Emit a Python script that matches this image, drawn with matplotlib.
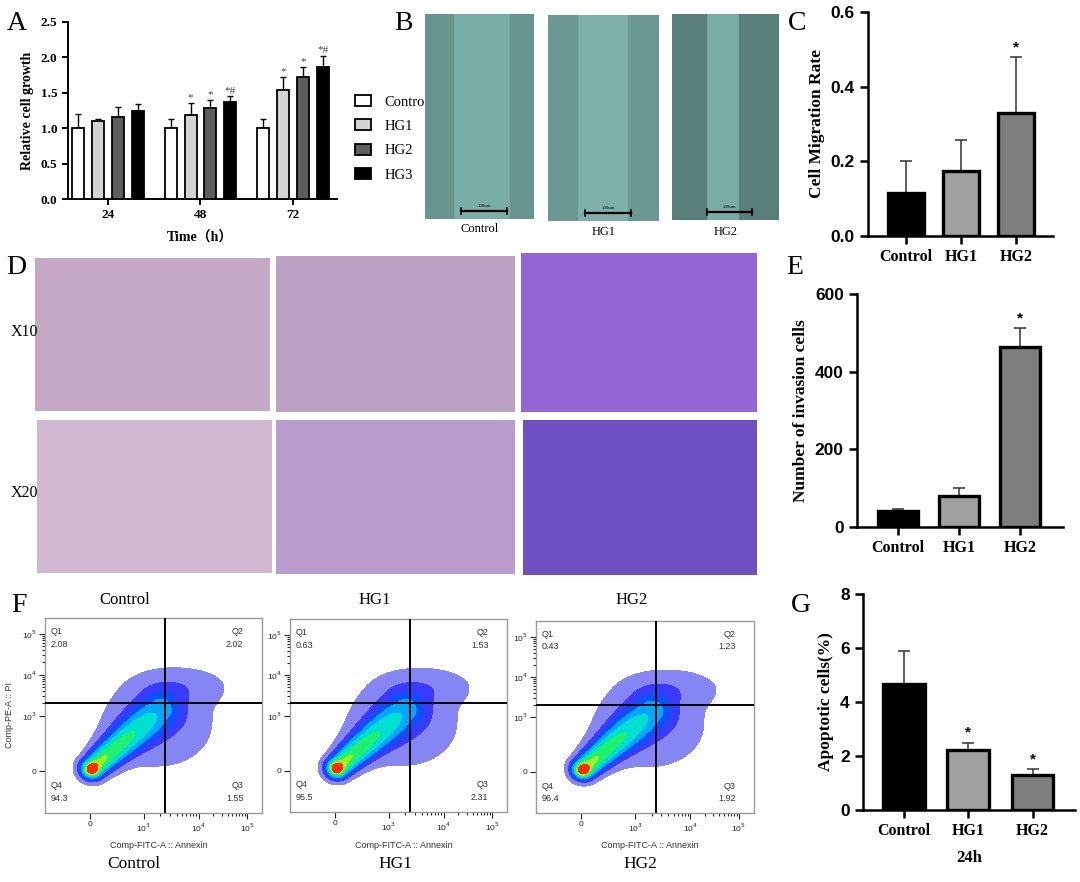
import numpy as np
import matplotlib
matplotlib.use('Agg')
import matplotlib.pyplot as plt
from matplotlib.patches import Rectangle

# ---------------- data ----------------
growth_times = ['24', '48', '72']
growth_groups = ['Contro', 'HG1', 'HG2', 'HG3']
growth_control = [1.00, 1.00, 1.00]
growth_hg1 = [1.10, 1.19, 1.54]
growth_hg2 = [1.16, 1.28, 1.72]
growth_hg3 = [1.25, 1.37, 1.86]
growth_control_err = [0.20, 0.13, 0.13]
growth_hg1_err = [0.03, 0.17, 0.18]
growth_hg2_err = [0.14, 0.12, 0.15]
growth_hg3_err = [0.09, 0.08, 0.16]
growth_sig = [['', '', ''], ['', '*', '*'], ['', '*', '*'], ['', '*#', '*#']]

groups3 = ['Control', 'HG1', 'HG2']
migration_rate = [0.115, 0.175, 0.33]
migration_err = [0.085, 0.083, 0.15]
migration_sig = ['', '', '*']

invasion_cells = [42, 80, 463]
invasion_err = [4, 21, 49]
invasion_sig = ['', '', '*']

apoptosis_pct = [4.65, 2.22, 1.30]
apoptosis_err = [1.25, 0.28, 0.22]
apoptosis_sig = ['', '*', '*']

flow_q1 = ['2.08', '0.63', '0.43']
flow_q2 = ['2.02', '1.53', '1.23']
flow_q3 = ['1.55', '2.31', '1.92']
flow_q4 = ['94.3', '95.5', '96.4']

magnifications = ['X10', 'X20']

# ---------------- setup ----------------
W, H = 1080, 882
fig = plt.figure(figsize=(W / 100, H / 100), dpi=100)
SERIF = ['Liberation Serif', 'DejaVu Serif']
SANS = ['Liberation Sans', 'DejaVu Sans']


def box(x0, y0, x1, y1):
    return [x0 / W, 1 - y1 / H, (x1 - x0) / W, (y1 - y0) / H]


def ftext(x, y, s, **kw):
    kw.setdefault('ha', 'center')
    kw.setdefault('va', 'center')
    fig.text(x / W, 1 - y / H, s, **kw)


# panel letters
for letter, (lx, ly) in {'A': (17, 24), 'B': (403, 23), 'C': (797, 23), 'D': (16, 268),
                         'E': (795, 267), 'F': (19, 605), 'G': (801, 605)}.items():
    ftext(lx, ly, letter, fontsize=20, family=SERIF)

# ---------------- Panel A ----------------
axA = fig.add_axes(box(68, 22, 337, 199))
colsA = ['white', '#d4d4d4', '#5e5e5e', 'black']
meansA = [growth_control, growth_hg1, growth_hg2, growth_hg3]
errsA = [growth_control_err, growth_hg1_err, growth_hg2_err, growth_hg3_err]
xg = np.arange(len(growth_times))
step, bw = 0.215, 0.13
handles = []
for i in range(4):
    xs = xg + (i - 1.5) * step
    b = axA.bar(xs, meansA[i], bw, color=colsA[i], edgecolor='black', linewidth=1.3, zorder=3)
    handles.append(b)
    axA.errorbar(xs, meansA[i], yerr=[np.zeros(3), errsA[i]], fmt='none', ecolor='black',
                 elinewidth=1, capsize=2.5, capthick=1, zorder=2)
    for j in range(3):
        if growth_sig[i][j]:
            axA.text(xs[j], meansA[i][j] + errsA[i][j] + 0.01, growth_sig[i][j], ha='center',
                     va='bottom', fontsize=8, color='#444444', family=SERIF)
axA.set_xlim(-0.432, 2.476)
axA.set_ylim(0, 2.5)
axA.set_yticks(np.arange(0, 2.51, 0.5))
axA.set_yticklabels([f'{v:.1f}' for v in np.arange(0, 2.51, 0.5)])
axA.set_xticks(xg)
axA.set_xticklabels(growth_times)
for s in ['top', 'right']:
    axA.spines[s].set_visible(False)
for s in ['left', 'bottom']:
    axA.spines[s].set_linewidth(1.4)
axA.tick_params(width=1.4, length=4, labelsize=9.5)
for t in axA.get_xticklabels() + axA.get_yticklabels():
    t.set_family(SERIF)
    t.set_fontweight('bold')
axA.set_ylabel('Relative cell growth', family=SERIF, fontweight='bold', fontsize=10, labelpad=5)
ftext(200, 238, 'Time（h）', family=['Liberation Serif', 'Noto Sans CJK SC'], fontweight='bold', fontsize=10)
fig.legend(handles, growth_groups, loc='upper left', bbox_to_anchor=(342 / W, 1 - 82 / H),
           frameon=False, handlelength=1.1, handleheight=0.75, handletextpad=0.9,
           labelspacing=0.75, prop={'family': SERIF, 'size': 10.5})

# ---------------- Panel B (scratch images) ----------------
b_boxes = [(425, 14, 534, 219), (548, 15, 659, 221), (672, 14, 779, 220)]
b_bands = [(0.26, 0.22), (0.26, 0.28), (0.32, 0.37)]
b_band_col = ['#66948f', '#6a9893', '#587f7a']
b_gap_col = ['#7bada8', '#7fb0ab', '#7aaca6']
b_lab_y = [229, 232, 232]
for k, (x0, y0, x1, y1) in enumerate(b_boxes):
    ax = fig.add_axes(box(x0, y0, x1, y1))
    ax.set_xlim(0, 1)
    ax.set_ylim(0, 1)
    ax.axis('off')
    ax.add_patch(Rectangle((0, 0), 1, 1, color=b_gap_col[k]))
    lb, rb = b_bands[k]
    ax.add_patch(Rectangle((0, 0), lb, 1, color=b_band_col[k]))
    ax.add_patch(Rectangle((1 - rb, 0), rb, 1, color=b_band_col[k]))
    ax.plot([0.33, 0.75], [0.04, 0.04], color='black', lw=1.6)
    ax.plot([0.33, 0.33], [0.025, 0.055], color='black', lw=1.2)
    ax.plot([0.75, 0.75], [0.025, 0.055], color='black', lw=1.2)
    ax.text(0.54, 0.055, '100um', fontsize=3.5, ha='center', va='bottom', family=SERIF)
    ftext((x0 + x1) / 2, b_lab_y[k], groups3[k], family=SERIF, fontsize=9)


# ---------------- bar panels C, E, G ----------------
def bar_panel(rect, means, errs, sig, ylim, yticks, ylabel, xlim, xlabel=None):
    ax = fig.add_axes(box(*rect))
    cols = ['black', '#a0a0a0', '#7e7e7e']
    x = np.arange(len(means))
    ax.bar(x, means, 0.65, color=cols, edgecolor='black', linewidth=2.4, zorder=3)
    ax.errorbar(x, means, yerr=[np.zeros(len(means)), errs], fmt='none', ecolor='#333333',
                elinewidth=1.1, capsize=4.5, capthick=1.1, zorder=2)
    for i in range(len(means)):
        if sig[i]:
            ax.text(x[i], means[i] + errs[i] + (ylim[1] * 0.012), sig[i], ha='center', va='bottom',
                    fontsize=11, fontweight='bold', family=SANS)
    ax.set_xlim(*xlim)
    ax.set_ylim(*ylim)
    ax.set_yticks(yticks)
    ax.set_xticks(x)
    ax.set_xticklabels(groups3)
    for s in ['top', 'right']:
        ax.spines[s].set_visible(False)
    for s in ['left', 'bottom']:
        ax.spines[s].set_linewidth(1.8)
    ax.tick_params(width=1.8, length=6)
    ax.tick_params(axis='y', labelsize=12.5)
    ax.tick_params(axis='x', labelsize=11.5)
    for t in ax.get_yticklabels():
        t.set_family(SANS)
        t.set_fontweight('bold')
    for t in ax.get_xticklabels():
        t.set_family(SERIF)
        t.set_fontweight('bold')
    ax.set_ylabel(ylabel, family=SERIF, fontweight='bold', fontsize=12.5)
    if xlabel:
        ax.set_xlabel(xlabel, family=SERIF, fontweight='bold', fontsize=12, labelpad=8)
    return ax


bar_panel((868, 12, 1053, 236), migration_rate, migration_err, migration_sig, (0, 0.6),
          [0.0, 0.2, 0.4, 0.6], 'Cell Migration Rate', (-0.69, 2.67))
bar_panel((857, 294, 1063, 527), invasion_cells, invasion_err, invasion_sig, (0, 600),
          [0, 200, 400, 600], 'Number of invasion cells', (-0.67, 2.70))
bar_panel((863, 594, 1075, 810), apoptosis_pct, apoptosis_err, apoptosis_sig, (0, 8),
          [0, 2, 4, 6, 8], 'Apoptotic cells(%)', (-0.64, 2.66), xlabel='24h')

# ---------------- Panel D (transwell images) ----------------
d_boxes = [[(35, 258, 270, 411), (276, 256, 515, 412), (521, 253, 757, 412)],
           [(37, 420, 272, 573), (276, 420, 515, 574), (523, 420, 757, 575)]]
d_cols = [['#c3a9c3', '#bba2c2', '#9266d4'],
          ['#cfb8d0', '#b79ccc', '#6e50c2']]
for r in range(2):
    for c in range(3):
        x0, y0, x1, y1 = d_boxes[r][c]
        ax = fig.add_axes(box(x0, y0, x1, y1))
        ax.axis('off')
        ax.add_patch(Rectangle((0, 0), 1, 1, color=d_cols[r][c]))
ftext(24, 332, magnifications[0], family=SERIF, fontsize=11.5)
ftext(24, 493, magnifications[1], family=SERIF, fontsize=11.5)

# ---------------- Panel F (flow cytometry) ----------------
f_boxes = [(45, 618, 262, 813), (290, 619, 507, 812), (536, 621, 754, 813)]
f_title_x = [125, 375, 632]
f_bottom_x = [134, 395, 640]
xt_pos = [0.208, 0.454, 0.708, 0.93]
yt_pos = [0.214, 0.499, 0.709, 0.918]
dec_labels = ['0', '10$^3$', '10$^4$', '10$^5$']

gx, gy = np.meshgrid(np.linspace(0, 1, 320), np.linspace(0, 1, 320))


def flow_density(X, Y):
    p0 = np.array([0.22, 0.23])
    p1 = np.array([0.53, 0.53])
    d = p1 - p0
    t = np.clip(((X - p0[0]) * d[0] + (Y - p0[1]) * d[1]) / (d @ d), 0, 1)
    dist2 = (X - p0[0] - t * d[0]) ** 2 + (Y - p0[1] - t * d[1]) ** 2
    w = 0.036 + 0.03 * t
    band = (0.95 - 0.6 * t) * np.exp(-dist2 / (2 * w ** 2))
    core = 0.55 * np.exp(-((X - 0.215) ** 2 + (Y - 0.225) ** 2) / (2 * 0.02 ** 2))
    cloud = 0.13 * np.exp(-((X - 0.52) ** 2 / (2 * 0.17 ** 2) + (Y - 0.46) ** 2 / (2 * 0.15 ** 2)))
    cluster = 0.09 * np.exp(-((X - 0.64) ** 2 / (2 * 0.13 ** 2) + (Y - 0.65) ** 2 / (2 * 0.06 ** 2)))
    return band + core + cloud + cluster


dens = flow_density(gx, gy)
lev = [0.045, 0.15, 0.26, 0.38, 0.52, 0.68, 0.85, 1.05, 10]
lev_cols = ['#8585f4', '#3a3aff', '#0a50ff', '#00a8ff', '#00e0d0', '#20f070', '#a0f020', '#ff2a00']

for k, (x0, y0, x1, y1) in enumerate(f_boxes):
    ax = fig.add_axes(box(x0, y0, x1, y1))
    ax.contourf(gx, gy, dens, levels=lev, colors=lev_cols, zorder=1)
    ax.set_xlim(0, 1)
    ax.set_ylim(0, 1)
    ax.axvline(0.552, color='black', lw=1.4, zorder=3)
    ax.axhline(0.565, color='black', lw=1.4, zorder=3)
    for s in ax.spines.values():
        s.set_color('#9a9a9a')
        s.set_linewidth(1.0)
    ax.set_xticks(xt_pos)
    ax.set_xticklabels(dec_labels)
    ax.set_yticks(yt_pos)
    ax.set_yticklabels(dec_labels)
    minors_x, minors_y = [], []
    for a, b in [(xt_pos[1], xt_pos[2]), (xt_pos[2], xt_pos[3])]:
        minors_x += [a + (b - a) * np.log10(m) for m in range(2, 10)]
    for a, b in [(yt_pos[1], yt_pos[2]), (yt_pos[2], yt_pos[3])]:
        minors_y += [a + (b - a) * np.log10(m) for m in range(2, 10)]
    ax.set_xticks(minors_x, minor=True)
    ax.set_yticks(minors_y, minor=True)
    ax.tick_params(which='both', labelsize=6, colors='#222222', width=0.8, length=4, pad=2)
    ax.tick_params(which='minor', length=2.5)
    for t in ax.get_xticklabels() + ax.get_yticklabels():
        t.set_family(SANS)
    ftext((x0 + x1) / 2 + 5, 845, 'Comp-FITC-A :: Annexin', family=SANS, fontsize=6.5, color='#333333')
    if k == 0:
        ax.set_ylabel('Comp-PE-A :: PI', family=SANS, fontsize=6.5, color='#333333', labelpad=6)
    tk = dict(fontsize=6.5, family=SANS, color='#333333', transform=ax.transAxes, zorder=4)
    ax.text(0.025, 0.93, 'Q1', ha='left', va='center', **tk)
    ax.text(0.025, 0.865, flow_q1[k], ha='left', va='center', **tk)
    ax.text(0.915, 0.93, 'Q2', ha='right', va='center', **tk)
    ax.text(0.915, 0.865, flow_q2[k], ha='right', va='center', **tk)
    ax.text(0.025, 0.14, 'Q4', ha='left', va='center', **tk)
    ax.text(0.025, 0.075, flow_q4[k], ha='left', va='center', **tk)
    ax.text(0.915, 0.14, 'Q3', ha='right', va='center', **tk)
    ax.text(0.915, 0.075, flow_q3[k], ha='right', va='center', **tk)
    ftext(f_title_x[k], 600, groups3[k], family=SERIF, fontsize=12)
    ftext(f_bottom_x[k], 864, groups3[k], family=SERIF, fontsize=12.5)

fig.savefig('out.png', dpi=100)
